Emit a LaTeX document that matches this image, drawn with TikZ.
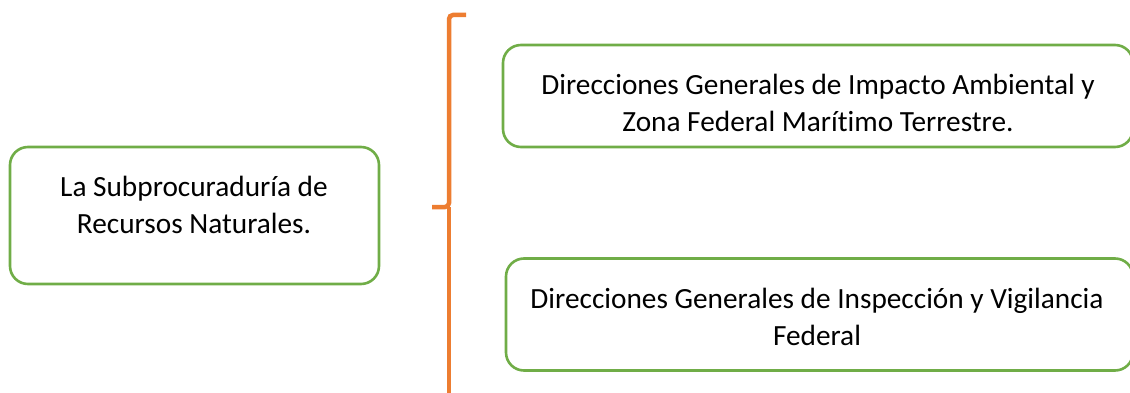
\documentclass[tikz,border=0pt]{standalone}
\usepackage{fontspec}
\setmainfont[Ligatures=NoCommon]{Carlito}
\definecolor{verde}{RGB}{112,173,71}
\definecolor{naranja}{RGB}{237,125,49}
\begin{document}
\begin{tikzpicture}[x=1pt,y=-1pt,
    caja/.style={draw=verde,line width=2.6pt,rounded corners=18pt,inner sep=0pt},
    texto/.style={align=center,inner sep=0pt,font=\fontsize{29.3}{37}\selectfont}]
  \useasboundingbox (0,0) rectangle (1130,393);
  % cajas
  \node[caja,minimum width=369pt,minimum height=137pt] (subproc) at (194.5,215.5) {};
  \node[caja,minimum width=630pt,minimum height=102pt] (impacto) at (818,96) {};
  \node[caja,minimum width=627pt,minimum height=112pt] (inspeccion) at (819.5,314.5) {};
  % textos
  \node[texto] (subproctxt) at (194,205) {La Subprocuraduría de\\Recursos Naturales.};
  \node[texto] (impactotxt) at (818,103) {Direcciones Generales de Impacto Ambiental y\\Zona Federal Marítimo Terrestre.};
  \node[texto] (inspecciontxt) at (817,316.5) {Direcciones Generales de Inspección y Vigilancia\\Federal};
  % llave
  \coordinate (llave) at (449,207);
  \draw[naranja,line width=4.5pt,rounded corners=4pt] (466,15) -| (llave) -- (432,207);
  \draw[naranja,line width=4.5pt,rounded corners=4pt] (llave) -- (449,400);
\end{tikzpicture}
\end{document}
